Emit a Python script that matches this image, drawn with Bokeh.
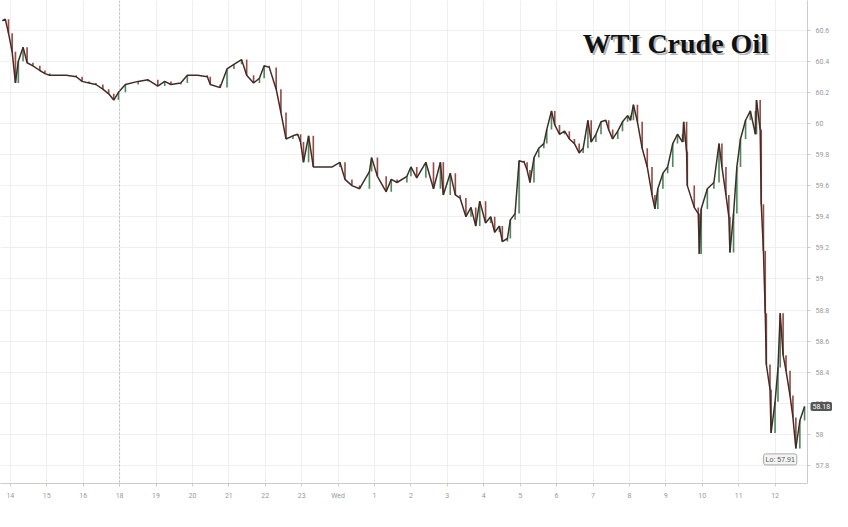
from bokeh.plotting import figure
from bokeh.models import FixedTicker, Label, Span, Range1d, ColumnDataSource
from bokeh.embed import file_html
from bokeh.resources import INLINE

# session-hour position (0 = 14:00, 17:00 hour skipped) and price
times = [-0.22,-0.14,-0.05,0.05,0.14,0.22,0.35,0.46,0.62,0.81,0.95,1.08,1.27,1.54,1.81,1.97,2.16,2.35,2.54,2.70,
         2.84,2.97,3.16,3.51,3.78,4.05,4.24,4.41,4.68,4.86,5.14,5.41,5.49,5.76,5.95,6.14,6.35,6.49,6.68,6.84,
         6.97,7.11,7.30,7.43,7.57,7.76,7.89,7.97,8.05,8.19,8.32,8.57,8.84,9.05,9.19,9.38,9.59,9.86,9.92,10.08,
         10.32,10.46,10.62,10.89,11.00,11.16,11.41,11.62,11.81,11.89,12.08,12.22,12.35,12.51,12.65,12.78,12.89,13.05,13.19,13.30,
         13.43,13.51,13.65,13.73,13.86,13.97,14.11,14.19,14.27,14.38,14.51,14.65,14.73,14.86,14.95,15.08,15.22,15.35,15.49,15.62,
         15.73,15.86,15.95,16.08,16.22,16.35,16.43,16.54,16.68,16.81,16.95,17.03,17.11,17.22,17.35,17.49,17.62,17.70,17.78,17.92,
         18.05,18.19,18.32,18.46,18.49,18.57,18.59,18.78,18.89,18.92,18.97,19.14,19.32,19.46,19.54,19.65,19.73,19.76,19.86,19.95,
         20.05,20.19,20.32,20.46,20.49,20.59,20.62,20.68,20.73,20.76,20.86,20.89,21.00,21.08,21.14,21.22,21.30,21.41,21.49,21.57,
         21.68,21.81]
prices = [60.66,60.67,60.58,60.46,60.26,60.40,60.49,60.39,60.37,60.34,60.32,60.31,60.31,60.31,60.30,60.27,60.26,60.25,60.22,60.19,
          60.15,60.20,60.25,60.27,60.28,60.24,60.27,60.25,60.26,60.31,60.31,60.30,60.25,60.23,60.35,60.38,60.41,60.31,60.26,60.29,
          60.37,60.36,60.22,60.07,59.90,59.92,59.93,59.88,59.75,59.92,59.72,59.72,59.72,59.75,59.64,59.60,59.58,59.69,59.78,59.66,
          59.56,59.64,59.62,59.66,59.72,59.65,59.75,59.58,59.75,59.54,59.68,59.54,59.52,59.40,59.46,59.34,59.50,59.36,59.40,59.30,
          59.34,59.24,59.26,59.38,59.42,59.76,59.75,59.70,59.62,59.78,59.84,59.87,59.96,60.08,59.99,59.93,59.95,59.90,59.87,59.81,
          59.84,60.02,59.88,59.93,60.01,60.02,59.96,59.90,59.95,60.01,60.05,60.02,60.12,60.01,59.84,59.72,59.54,59.45,59.58,59.68,
          59.72,59.87,59.93,59.88,60.01,59.82,59.60,59.46,59.42,59.16,59.45,59.58,59.62,59.87,59.72,59.54,59.40,59.17,59.42,59.72,
          59.90,60.02,60.08,59.93,60.15,59.96,59.48,59.18,58.78,58.45,58.29,58.01,58.21,58.43,58.78,58.51,58.41,58.25,58.11,57.91,
          58.09,58.18]
tick_labels = ["14","15","16","18","19","20","21","22","23","Wed","1","2","3","4","5","6","7","8","9","10","11","12"]
y_ticks = [57.8,58.0,58.2,58.4,58.6,58.8,59.0,59.2,59.4,59.6,59.8,60.0,60.2,60.4,60.6,60.8]
title_text = "WTI Crude Oil"
last_price = 58.18
low_price = 57.91

p = figure(width=832, height=511, output_backend="svg", toolbar_location=None,
           x_range=Range1d(-0.27, 21.89), y_range=Range1d(57.685, 60.79),
           y_axis_location="right", min_border_left=0, min_border_top=0,
           min_border_right=4, min_border_bottom=0)
p.outline_line_color = None
p.background_fill_color = "white"

# thin candle-like bodies between consecutive prices
prev = [prices[0]] + prices[:-1]
tops = [max(a, b) for a, b in zip(prev, prices)]
bots = [min(a, b) for a, b in zip(prev, prices)]
cols = ["#4f8a5e" if b >= a else "#9c4a42" for a, b in zip(prev, prices)]
src = ColumnDataSource(dict(x=times, top=tops, bottom=bots, c=cols))

p.vbar(x="x", top="top", bottom="bottom", width=0.045, fill_color="c", line_color=None, source=src)
p.line(times, prices, line_color="#3e2d29", line_width=1.5)

p.xaxis.ticker = FixedTicker(ticks=list(range(len(tick_labels))))
p.xaxis.major_label_overrides = {i: t for i, t in enumerate(tick_labels)}
p.yaxis.ticker = FixedTicker(ticks=y_ticks)
p.yaxis.major_label_overrides = {t: f"{t:g}" for t in y_ticks}
for ax in (p.xaxis[0], p.yaxis[0]):
    ax.major_label_text_font_size = "7px"
    ax.major_label_text_color = "#999999"
    ax.major_label_text_font = "Roboto"
    ax.axis_line_color = "#cccccc"
    ax.major_tick_line_color = "#cccccc"
    ax.major_tick_in = 0
    ax.major_tick_out = 3
    ax.minor_tick_line_color = None
p.xgrid.grid_line_color = "#efefef"
p.ygrid.grid_line_color = "#efefef"
p.xgrid.ticker = FixedTicker(ticks=list(range(len(tick_labels))))
p.ygrid.ticker = FixedTicker(ticks=y_ticks)

p.add_layout(Span(location=3, dimension="height", line_color="#bbbbbb", line_dash="2 2", line_width=1))

shadow = Label(x=15.72, y=60.515, text=title_text, text_font="Liberation Serif", text_font_style="bold",
               text_font_size="28px", text_color="#777777", text_alpha=0.55, x_offset=2, y_offset=-2,
               text_baseline="alphabetic")
ttl = Label(x=15.72, y=60.515, text=title_text, text_font="Liberation Serif", text_font_style="bold",
            text_font_size="28px", text_color="#111111", text_baseline="alphabetic")
p.add_layout(shadow)
p.add_layout(ttl)

p.add_layout(Label(x=21.89, y=last_price, x_offset=3, text=f"{last_price:.2f}", text_font_size="7px",
                   text_font="Roboto", text_color="white", background_fill_color="#555555",
                   text_baseline="middle", text_align="left", padding=2, border_radius=2), "below")
p.add_layout(Label(x=21.14, y=57.84, text=f"Lo: {low_price:.2f}", text_font_size="7px",
                   text_color="#555555", background_fill_color="#f4f4f4", border_line_color="#aaaaaa",
                   text_align="center", text_baseline="middle", padding=2, border_radius=2))

open("out.html", "w").write(file_html(p, INLINE))
